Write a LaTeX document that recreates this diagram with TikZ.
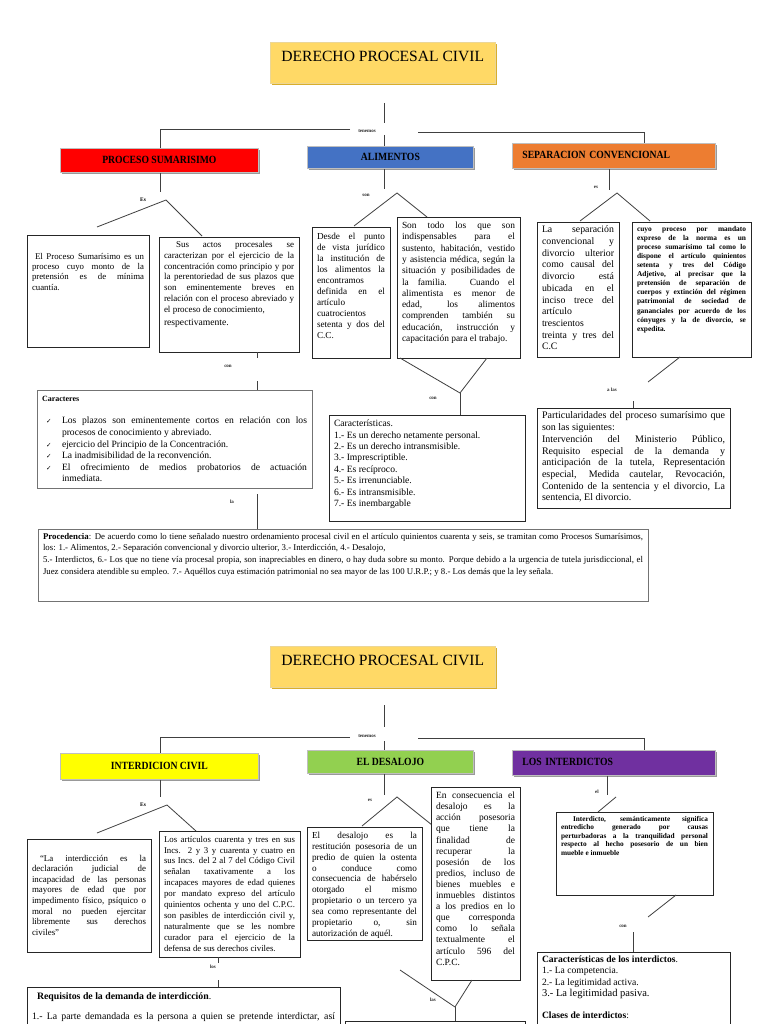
\documentclass[tikz,border=0pt]{standalone}
\usepackage{fontspec}
\setmainfont{Liberation Serif}
\newfontfamily\condfont[FakeStretch=0.88]{Liberation Serif}
\newfontfamily\titlefont{Liberation Serif}
\newfontfamily\symfont{DejaVu Sans}
\usetikzlibrary{shadows}
\definecolor{ttl}{HTML}{FFD966}
\definecolor{ttlshadow}{HTML}{D9AE2B}
\definecolor{hred}{HTML}{FF0000}
\definecolor{hblue}{HTML}{4472C4}
\definecolor{horange}{HTML}{ED7D31}
\definecolor{hyellow}{HTML}{FFFF00}
\definecolor{hgreen}{HTML}{92D050}
\definecolor{hpurple}{HTML}{7030A0}
\definecolor{lnc}{HTML}{404040}
\newcommand\fs[2]{\fontsize{#1}{#2}\selectfont}
\newcommand\lb{\linebreak}
\newcommand\TB[7][]{\node[tb,#1,minimum width=#5pt,minimum height=#6pt] (#2) at (#3,#4)
  {\parbox[t][\dimexpr #6pt-6pt\relax][t]{\dimexpr #5pt-10pt\relax}{#7}};}
\newcommand\chk{\makebox[20pt][l]{\hspace{4pt}{\symfont\fs{6.5}{7}✓}}}
\begin{document}
\begin{tikzpicture}[x=1pt,y=-1pt,
  tb/.style={draw=black!85, line width=0.8pt, fill=white, anchor=north west,
     inner xsep=5pt, inner ysep=3pt, outer sep=0pt},
  conn/.style={draw=lnc, line width=0.8pt},
  lbl/.style={inner sep=0pt, font=\bfseries\fs{5}{5.5}, text=black!85},
  lblb/.style={inner sep=0pt, font=\bfseries\fs{5.5}{6}},
  ttlbox/.style={anchor=north west, fill=ttl, draw=ttlshadow!50, line width=0.5pt,
     minimum width=225pt, minimum height=41pt, inner ysep=4pt, text height=15pt, text depth=18pt,
     drop shadow={shadow xshift=2pt, shadow yshift=-2pt, fill=ttlshadow, opacity=1},
     font=\titlefont\fs{15.6}{16}},
  hdr/.style={anchor=north west, draw=black!25, line width=0.8pt, inner ysep=0pt,
     font=\condfont\bfseries\fs{11}{12},
     drop shadow={shadow xshift=1.5pt, shadow yshift=-1.5pt, fill=black!40, opacity=1}},
  hdrl/.style={hdr, inner xsep=10pt, align=left},
]
\useasboundingbox (0,0) rectangle (768,1024);
\fill[white] (0,0) rectangle (768,1024);
\clip (0,0) rectangle (768,1024);

%================ SECTION 1 ================
\node[ttlbox] (t1) at (270,42) {DERECHO PROCESAL CIVIL};
\coordinate (v1a) at (384,103); \coordinate (v1b) at (384,123);
\draw[conn] (v1a) -- (v1b);
\node[lbl] (ten1) at (367,131) {tenemos};
\coordinate (h1l) at (160,129); \coordinate (h1m) at (350,129);
\coordinate (h1n) at (418,132); \coordinate (h1r) at (644,132);
\coordinate (h1c) at (384,135);

\node[hdr, fill=hred, minimum width=198pt, minimum height=24pt] (ps) at (60,148) {PROCESO SUMARISIMO};
\node[hdr, fill=hblue, minimum width=166pt, minimum height=22pt] (al) at (307,146) {ALIMENTOS};
\node[hdrl, fill=horange, minimum width=203pt, minimum height=25pt, text width=183pt] (sc) at (512,143) {\raisebox{2pt}{SEPARACION CONVENCIONAL}};

\draw[conn] (h1m) -- (h1l) -- (h1l |- ps.north);
\draw[conn] (h1n) -- (h1r) -- (h1r |- sc.north);
\draw[conn] (h1c) -- (h1c |- al.north);

% Proceso sumarisimo branch
\coordinate (e1) at (160,192);
\draw[conn] (e1 |- ps.south) -- (e1);
\node[lblb] (es1) at (143,200) {Es};
\coordinate (ap1) at (166,200); \coordinate (l1) at (97,227); \coordinate (r1) at (202,236);
\draw[conn] (l1) -- (ap1) -- (r1);

\TB{b1}{27}{235}{122}{112}{\fs{8.8}{10.4}\vspace*{15pt}\hspace*{3pt}El Proceso Sumarísimo es un\lb proceso cuyo monto de la\lb pretensión es de mínima\lb cuantía.}
\TB{b2}{159}{237}{140}{115}{\fs{9}{10.9}\vspace*{1pt}\hspace*{12pt}Sus actos procesales se\lb caracterizan por el ejercicio de la\lb concentración como principio y por\lb la perentoriedad de sus plazos que\lb son eminentemente breves en\lb relación con el proceso abreviado y\lb el proceso de conocimiento,\\[1.5pt] {\fs{9.6}{11}respectivamente.}}

\coordinate (c1b) at (257,358);
\draw[conn] (c1b |- b2.south) -- (c1b);
\node[lbl] (con1) at (228,366) {con};
\coordinate (c1c) at (257,381);

\TB[draw=black!55]{cr}{37}{390}{275}{98}{\vspace*{3pt}{\bfseries\fs{8}{9}Caracteres}\par\vspace{11pt}
\fs{9.6}{11.6}\hangindent=20pt\hangafter=1\chk Los plazos son eminentemente cortos en relación con los\lb procesos de conocimiento y abreviado.\par
\hangindent=20pt\hangafter=1\chk ejercicio del Principio de la Concentración.\par
\hangindent=20pt\hangafter=1\chk La inadmisibilidad de la reconvención.\par
\hangindent=20pt\hangafter=1\chk El ofrecimiento de medios probatorios de actuación\lb inmediata.\par}
\draw[conn] (c1c) -- (c1c |- cr.north);

\coordinate (c1d) at (257,494);
\node[lbl] (la1) at (232,502) {la};
\TB[draw=black!55]{pr}{38}{529}{610}{72}{\fs{8.8}{11.7}\vspace*{1pt}\textbf{Procedencia}: De acuerdo como lo tiene señalado nuestro ordenamiento procesal civil en el artículo quinientos cuarenta y seis, se tramitan como Procesos Sumarísimos,\lb los: 1.- Alimentos, 2.- Separación convencional y divorcio ulterior, 3.- Interdicción, 4.- Desalojo,\\ 5.- Interdictos, 6.- Los que no tiene vía procesal propia, son inapreciables en dinero, o hay duda sobre su monto. Porque debido a la urgencia de tutela jurisdiccional, el\lb Juez considera atendible su empleo. 7.- Aquéllos cuya estimación patrimonial no sea mayor de las 100 U.R.P.; y 8.- Los demás que la ley señala.}
\draw[conn] (c1d) -- (c1d |- pr.north);

% Alimentos branch
\coordinate (e2) at (384,189);
\draw[conn] (e2 |- al.south) -- (e2);
\node[lbl] (son1) at (366,195) {son};
\coordinate (ap2) at (397,193); \coordinate (l2) at (354,226); \coordinate (r2) at (427,217);
\draw[conn] (l2) -- (ap2) -- (r2);

\TB{b3}{312}{227}{78}{131}{\fs{9.2}{11}\vspace*{3pt}Desde el punto\lb de vista jurídico\lb la institución de\lb los alimentos la\lb encontramos\lb definida en el\lb artículo\lb cuatrocientos\lb setenta y dos del\lb C.C.}
\TB{b4}{397}{217}{123}{141}{\fs{9.4}{11.3}\vspace*{2pt}Son todo los que son\lb indispensables para el\lb sustento, habitación, vestido\lb y asistencia médica, según la\lb situación y posibilidades de\lb la familia. Cuando el\lb alimentista es menor de\lb edad, los alimentos\lb comprenden también su\lb educación, instrucción y\lb capacitación para el trabajo.}

\coordinate (ap3) at (460,393); \coordinate (l3) at (400,358); \coordinate (r3) at (487,358);
\draw[conn] (l3) -- (ap3) -- (r3);
\node[lbl] (con2) at (433,398) {con};
\TB{ca}{329}{415}{196}{106}{\fs{9.6}{11.4}\vspace*{2pt}Características.\\ 1.- Es un derecho netamente personal.\\ 2.- Es un derecho intransmisible.\\ 3.- Imprescriptible.\\ 4.- Es recíproco.\\ 5.- Es irrenunciable.\\ 6.- Es intransmisible.\\ 7.- Es inembargable}
\draw[conn] (ap3) -- (ap3 |- ca.north);

% Separacion branch
\coordinate (e3) at (609,190);
\draw[conn] (e3 |- sc.south) -- (e3);
\node[lbl] (es3) at (596,187) {es};
\coordinate (ap4) at (617,193); \coordinate (l4) at (580,221); \coordinate (r4) at (650,221);
\draw[conn] (l4) -- (ap4) -- (r4);

\TB{b5}{537}{222}{82}{135}{\fs{9.8}{11.7}\vspace*{1pt}La separación\lb convencional y\lb divorcio ulterior\lb como causal del\lb divorcio está\lb ubicada en el\lb inciso trece del\lb artículo\lb trescientos\lb treinta y tres del\lb C.C}
\TB{b6}{632}{222}{119}{135}{\bfseries\fs{7.4}{9.1}\vspace*{1pt}cuyo proceso por mandato\lb expreso de la norma es un\lb proceso sumarísimo tal como lo\lb dispone el artículo quinientos\lb setenta y tres del Código\lb Adjetivo, al precisar que la\lb pretensión de separación de\lb cuerpos y extinción del régimen\lb patrimonial de sociedad de\lb gananciales por acuerdo de los\lb cónyuges y la de divorcio, se\lb expedita.}

\coordinate (d1a) at (680,357); \coordinate (d1b) at (648,382);
\draw[conn] (d1a) -- (d1b);
\node[lbl] (alas) at (612,390) {a las};
\coordinate (d1c) at (633,401);
\TB{pa}{537}{408}{193}{100}{\fs{10}{11.7}\vspace*{1pt}Particularidades del proceso sumarísimo que\lb son las siguientes:\\ Intervención del Ministerio Público,\lb Requisito especial de la demanda y\lb anticipación de la tutela, Representación\lb especial, Medida cautelar, Revocación,\lb Contenido de la sentencia y el divorcio, La\lb sentencia, El divorcio.}
\draw[conn] (d1c) -- (d1c |- pa.north);

%================ SECTION 2 ================
\node[ttlbox] (t2) at (270,646) {DERECHO PROCESAL CIVIL};
\coordinate (v2a) at (384,705); \coordinate (v2b) at (384,727);
\draw[conn] (v2a) -- (v2b);
\node[lbl] (ten2) at (367,736) {tenemos};
\coordinate (h2l) at (160,737); \coordinate (h2m) at (350,737);
\coordinate (h2n) at (418,738); \coordinate (h2r) at (644,738);
\coordinate (h2c) at (384,741);

\node[hdr, fill=hyellow, minimum width=198pt, minimum height=26pt] (ic) at (60,753) {INTERDICION CIVIL};
\node[hdr, fill=hgreen, minimum width=166pt, minimum height=23pt] (ed) at (307,750) {EL DESALOJO};
\node[hdrl, fill=hpurple, minimum width=203pt, minimum height=25pt, text width=183pt] (li) at (512,750) {\raisebox{2pt}{LOS INTERDICTOS}};

\draw[conn] (h2m) -- (h2l) -- (h2l |- ic.north);
\draw[conn] (h2n) -- (h2r) -- (h2r |- li.north);
\draw[conn] (h2c) -- (h2c |- ed.north);

% Interdiccion branch
\coordinate (e4) at (160,797);
\draw[conn] (e4 |- ic.south) -- (e4);
\node[lblb] (es4) at (143,805) {Es};
\coordinate (ap5) at (167,805); \coordinate (l5) at (97,833); \coordinate (r5) at (196,831);
\draw[conn] (l5) -- (ap5) -- (r5);

\TB{ba}{27}{839}{124}{113}{\fs{8.9}{10.6}\vspace*{13pt}\hspace*{8pt}“La interdicción es la\lb declaración judicial de\lb incapacidad de las personas\lb mayores de edad que por\lb impedimento físico, psíquico o\lb moral no pueden ejercitar\lb libremente sus derechos\lb civiles”}
\TB{bb}{159}{831}{141}{126}{\fs{8.8}{10.9}\vspace*{2pt}Los artículos cuarenta y tres en sus\lb Incs. 2 y 3 y cuarenta y cuatro en\lb sus Incs. del 2 al 7 del Código Civil\lb señalan taxativamente a los\lb incapaces mayores de edad quienes\lb por mandato expreso del artículo\lb quinientos ochenta y uno del C.P.C.\lb son pasibles de interdicción civil y,\lb naturalmente que se les nombre\lb curador para el ejercicio de la\lb defensa de sus derechos civiles.}

\coordinate (f1b) at (218,963);
\draw[conn] (f1b |- bb.south) -- (f1b);
\node[lbl] (los1) at (213,967) {los};
\coordinate (f1c) at (218,980);
\TB{rq}{27}{987}{313}{60}{\fs{9.8}{11}\vspace*{3pt}\hspace*{5pt}\textbf{Requisitos de la demanda de interdicción}.\par\vspace{9pt}{\parfillskip=0pt 1.- La parte demandada es la persona a quien se pretende interdictar, así\par}}
\draw[conn] (f1c) -- (f1c |- rq.north);

% Desalojo branch
\coordinate (e5) at (384,795);
\draw[conn] (e5 |- ed.south) -- (e5);
\node[lbl] (es5) at (370,800) {es};
\coordinate (ap6) at (397,797); \coordinate (l6) at (362,826); \coordinate (r6) at (432,825);
\draw[conn] (l6) -- (ap6) -- (r6);

\TB{bc}{307}{827}{115}{113}{\fs{9.2}{10.9}\vspace*{2pt}El desalojo es la\lb restitución posesoria de un\lb predio de quien la ostenta\lb o conduce como\lb consecuencia de habérselo\lb otorgado el mismo\lb propietario o un tercero ya\lb sea como representante del\lb propietario o, sin\lb autorización de aquél.}
\TB{bd}{431}{787}{89}{193}{\fs{9.5}{11.1}\vspace*{2pt}En consecuencia el\lb desalojo es la\lb acción posesoria\lb que tiene la\lb finalidad de\lb recuperar la\lb posesión de los\lb predios, incluso de\lb bienes muebles e\lb inmuebles distintos\lb a los predios en lo\lb que corresponda\lb como lo señala\lb textualmente el\lb artículo 596 del\lb C.P.C.}

\coordinate (ap7) at (455,1007); \coordinate (l7) at (400,970); \coordinate (r7) at (472,980);
\draw[conn] (l7) -- (ap7) -- (r7);
\node[lbl] (las1) at (433,1000) {las};
\TB{bx}{345}{1021}{180}{30}{}
\draw[conn] (ap7) -- (ap7 |- bx.north);

% Interdictos branch
\coordinate (e6) at (607,795);
\draw[conn] (e6 |- li.south) -- (e6);
\node[lbl] (el6) at (597,792) {el};
\coordinate (g1a) at (616,797); \coordinate (g1b) at (598,812);
\draw[conn] (g1a) -- (g1b);
\TB{be}{556}{812}{157}{83}{\bfseries\fs{7.3}{8.5}\vspace*{1pt}\hspace*{12pt}Interdicto, semánticamente significa\lb entredicho generado por causas\lb perturbadoras a la tranquilidad personal\lb respecto al hecho posesorio de un bien\lb mueble e inmueble}

\coordinate (g2a) at (676,895); \coordinate (g2b) at (648,917);
\draw[conn] (g2a) -- (g2b);
\node[lbl] (con6) at (623,926) {con};
\coordinate (g2c) at (633,932);
\TB{ci}{537}{952}{193}{90}{\fs{9.6}{11.2}\vspace*{1pt}\textbf{Características de los interdictos}.\\ 1.- La competencia.\\ 2.- La legitimidad activa.\\ {\fs{10.5}{12}3.- La legitimidad pasiva.}\\[11pt] \textbf{Clases de interdictos}:}
\draw[conn] (g2c) -- (g2c |- ci.north);
\end{tikzpicture}
\end{document}
